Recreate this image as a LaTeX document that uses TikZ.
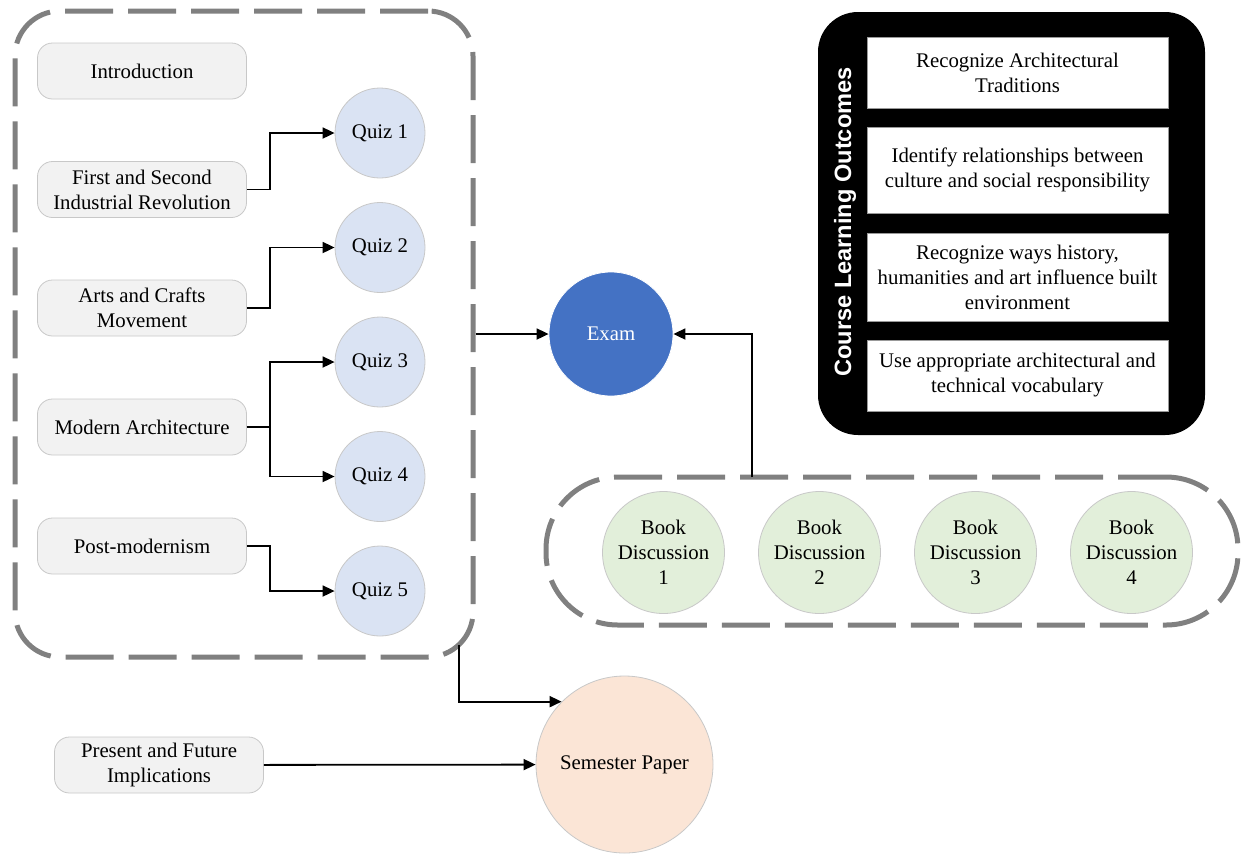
\documentclass[tikz,border=0pt]{standalone}
\usepackage{fontspec}
\setmainfont{Liberation Serif}
\newfontfamily\cloheadfont{Liberation Sans}
\usetikzlibrary{positioning, arrows.meta}

\definecolor{boxgray}{HTML}{F2F2F2}
\definecolor{edgegray}{HTML}{C8C8C8}
\definecolor{dashgray}{HTML}{808080}
\definecolor{quizblue}{HTML}{DAE3F3}
\definecolor{examblue}{HTML}{4472C4}
\definecolor{bookgreen}{HTML}{E2EFDA}
\definecolor{paperpeach}{HTML}{FBE5D6}

\begin{document}
\begin{tikzpicture}[x=0.5pt, y=-0.5pt, on grid,
  font=\fontsize{10.4}{12.5}\selectfont,
  >={Triangle[length=6pt, width=5.5pt]},
  topic/.style={draw=edgegray, fill=boxgray, rounded corners=7.5pt, minimum width=104.5pt, minimum height=28pt, align=center, inner sep=1pt},
  quiz/.style={circle, draw=edgegray, fill=quizblue, minimum size=45pt, inner sep=0pt},
  book/.style={circle, draw=edgegray, fill=bookgreen, minimum size=61pt, inner sep=0pt, align=center},
  group/.style={draw=dashgray, line width=2.5pt, dash pattern=on 24pt off 7.5pt},
  outcome/.style={draw=black!40, fill=white, minimum width=150.5pt, align=center, inner sep=1pt},
  link/.style={->, line width=0.9pt}]

   \useasboundingbox (0,0) rectangle (1241,853);

   % dashed groups
   \node[group, rounded corners=22.5pt, minimum width=229pt, minimum height=323pt] (topics) at (244,334) {};
   \node[group, rounded corners=36pt, minimum width=346pt, minimum height=74pt] (books) at (892,551) {};

   % course topics
   \node[topic] (intro) at (142,71) {Introduction};
   \node[topic] (industrial) [below=59.25pt of intro] {First and Second\\Industrial Revolution};
   \node[topic] (crafts) [below=59.25pt of industrial] {Arts and Crafts\\Movement};
   \node[topic] (modern) [below=59.5pt of crafts] {Modern Architecture};
   \node[topic] (postmodern) [below=59.5pt of modern] {Post-modernism};
   \node[topic] (future) at (159,765) {Present and Future\\Implications};

   % quizzes
   \node[quiz] (q1) at (380,133) {Quiz 1};
   \node[quiz] (q2) [below=57.25pt of q1] {Quiz 2};
   \node[quiz] (q3) [below=57.25pt of q2] {Quiz 3};
   \node[quiz] (q4) [below=57.25pt of q3] {Quiz 4};
   \node[quiz] (q5) [below=57.25pt of q4] {Quiz 5};

   % book discussions
   \node[book] (bd1) at (663.5,552.5) {Book\\Discussion\\1};
   \node[book] (bd2) [right=78pt of bd1] {Book\\Discussion\\2};
   \node[book] (bd3) [right=78pt of bd2] {Book\\Discussion\\3};
   \node[book] (bd4) [right=78pt of bd3] {Book\\Discussion\\4};

   % assessments
   \node[circle, draw=white, fill=examblue, text=white, minimum size=62pt] (exam) at (611,334) {Exam};
   \node[circle, draw=edgegray, fill=paperpeach, minimum size=88.5pt] (paper) at (624.5,764.5) {Semester Paper};

   % course learning outcomes
   \node[fill=black, rounded corners=20pt, minimum width=193.5pt, minimum height=211.5pt] (clo) at (1011.5,223.5) {};
   \node[rotate=90, text=white, font=\cloheadfont\bfseries\fontsize{11.8}{14}\selectfont] (clotitle) at (845,222) {Course Learning Outcomes};
   \node[outcome, minimum height=35.5pt] (clo1) at (1017.5,72.5) {Recognize Architectural\\Traditions};
   \node[outcome, minimum height=43pt] (clo2) at (1017.5,170) {Identify relationships between\\culture and social responsibility};
   \node[outcome, minimum height=44pt] (clo3) at (1017.5,277) {Recognize ways history,\\humanities and art influence built\\environment};
   \node[outcome, minimum height=35.5pt] (clo4) at (1017.5,375.5) {Use appropriate architectural and\\technical vocabulary};

   % connectors
   \coordinate (booktap) at (752,477);
   \coordinate (topictap) at (459,645);
   \draw[link] (industrial.east) -- ++(23,0) |- (q1);
   \draw[link] (crafts.east) -- ++(23,0) |- (q2);
   \draw[link] (modern.east) -- ++(23,0) |- (q3);
   \draw[link] (modern.east) -- ++(23,0) |- (q4);
   \draw[link] (postmodern.east) -- ++(23,0) |- (q5);
   \draw[link] (topics.east) -- (exam);
   \draw[link] (booktap) |- (exam);
   \draw[link] (topictap) |- (paper.135);
   \draw[link] (future) -- (paper);
\end{tikzpicture}
\end{document}
